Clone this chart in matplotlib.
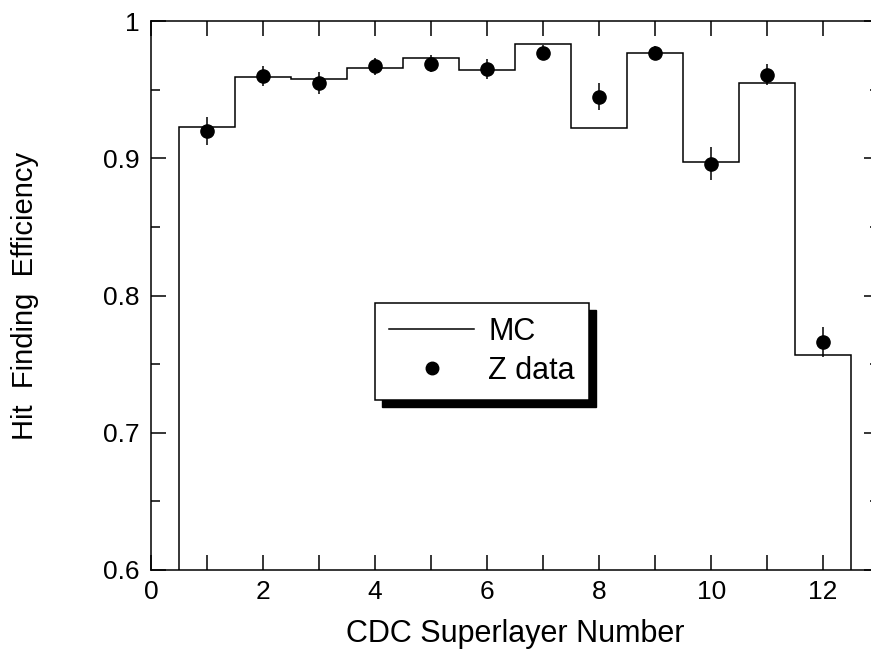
import numpy as np
import matplotlib
matplotlib.use('Agg')
import matplotlib.pyplot as plt
from matplotlib.patches import Rectangle
from matplotlib.lines import Line2D
from matplotlib.ticker import MultipleLocator

plt.rcParams['font.family'] = ['Liberation Sans', 'DejaVu Sans']

# superlayer numbers and efficiencies
layers = [1, 2, 3, 4, 5, 6, 7, 8, 9, 10, 11, 12]
mc_eff = [0.923, 0.959, 0.958, 0.966, 0.973, 0.964, 0.983, 0.922, 0.977, 0.897, 0.955, 0.757]
z_eff = [0.920, 0.960, 0.955, 0.967, 0.969, 0.965, 0.977, 0.945, 0.977, 0.896, 0.961, 0.766]
z_err = [0.010, 0.007, 0.008, 0.006, 0.006, 0.007, 0.0055, 0.0095, 0.005, 0.012, 0.0075, 0.011]

xtick_vals = list(range(0, 13))
xtick_labels = ['0', '', '2', '', '4', '', '6', '', '8', '', '10', '', '12']
ytick_vals = [0.6, 0.7, 0.8, 0.9, 1.0]
ytick_labels = ['0.6', '0.7', '0.8', '0.9', '1']

fig = plt.figure(figsize=(8.71, 6.61), dpi=100)
ax = fig.add_axes([0.1734, 0.1377, 0.836, 0.8305])

edges = np.arange(0.5, len(layers) + 1.0, 1.0)
ax.stairs(mc_eff, edges, baseline=0.6, color='k', lw=1.1)
ax.errorbar(layers, z_eff, yerr=z_err, fmt='o', color='k', ms=9.5,
            elinewidth=1.1, capsize=0)

ax.set_xlim(0, 13)
ax.set_ylim(0.6, 1.0)
ax.set_xticks(xtick_vals)
ax.set_xticklabels(xtick_labels)
ax.set_yticks(ytick_vals)
ax.set_yticklabels(ytick_labels)
ax.yaxis.set_minor_locator(MultipleLocator(0.05))
ax.tick_params(which='both', direction='in', top=True, right=True, width=1.1)
ax.tick_params(axis='x', which='major', length=11, labelsize=19, pad=7)
ax.tick_params(axis='y', which='major', length=11, labelsize=19, pad=8)
ax.tick_params(axis='y', which='minor', length=6.5)
for s in ax.spines.values():
    s.set_linewidth(1.1)

ax.set_xlabel('CDC Superlayer Number', fontsize=22, labelpad=11)
ax.set_ylabel('Hit  Finding  Efficiency', fontsize=21)
ax.yaxis.set_label_coords(-0.154, 0.5)

# legend: line for MC, plain dot for data
h_mc = Line2D([], [], color='k', lw=1.1)
h_z = Line2D([], [], color='k', marker='o', ls='none', ms=9)
leg = ax.legend([h_mc, h_z], ['MC', 'Z data'], loc='upper left',
                bbox_to_anchor=(0.3077, 0.486), borderaxespad=0, fontsize=22,
                frameon=True, fancybox=False, edgecolor='k', framealpha=1,
                handlelength=2.8, handletextpad=0.45, labelspacing=0.3,
                borderpad=0.45)
leg.get_frame().set_linewidth(1.1)

# shadow behind legend frame, bottom-right
fig.canvas.draw()
bb = leg.get_window_extent()
off = 7
sh = Rectangle((bb.x0 + off, bb.y0 - off), bb.width, bb.height, transform=None,
               facecolor='k', edgecolor='k', zorder=4.9, clip_on=False)
ax.add_patch(sh)

fig.savefig('out.png', dpi=100)
